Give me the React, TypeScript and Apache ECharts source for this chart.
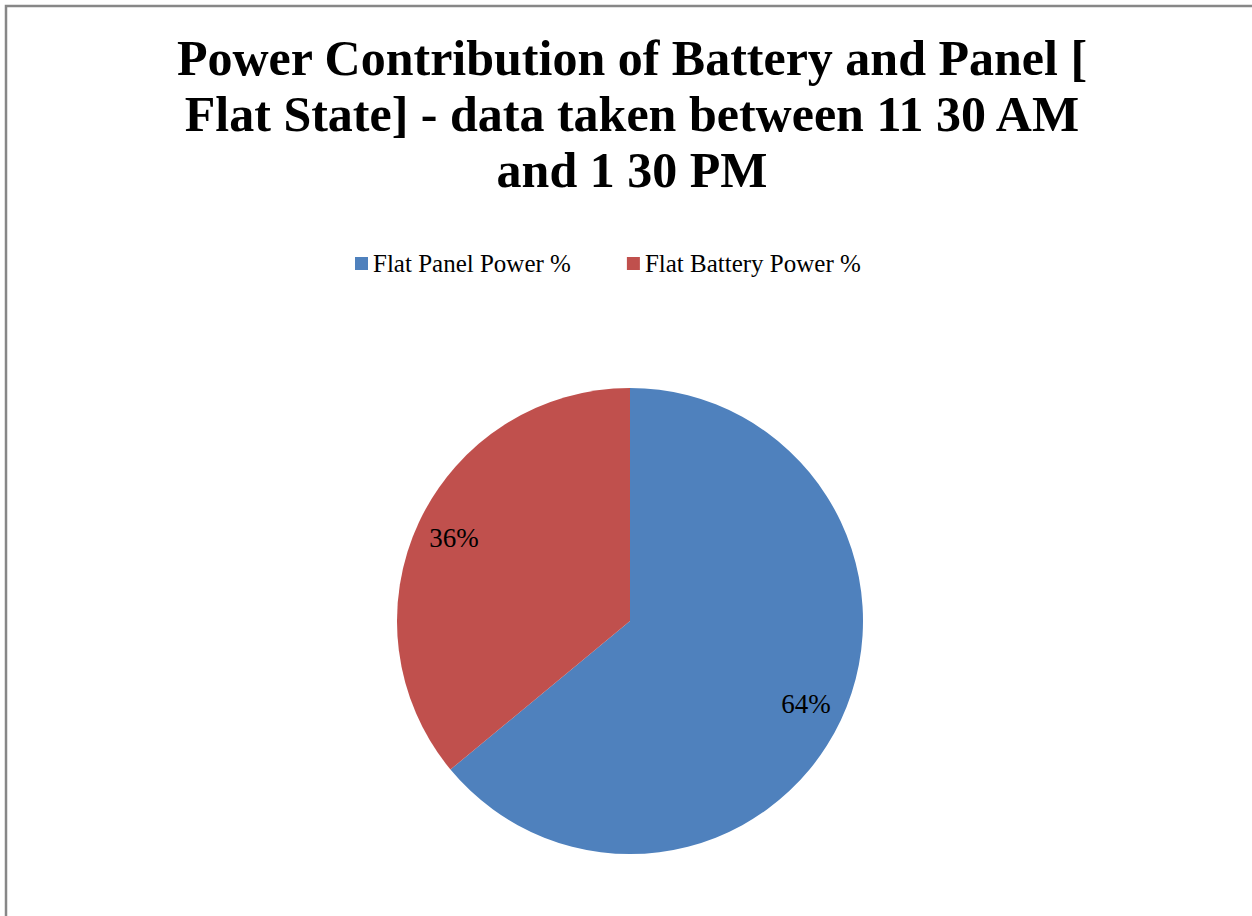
import React, { useEffect, useRef } from "react";
import * as echarts from "echarts";

const titleLines = [
  "Power Contribution of Battery and Panel [",
  "Flat State] - data taken between 11 30 AM",
  "and 1 30 PM",
];
const categories = ["Flat Panel Power %", "Flat Battery Power %"];
const values = [64, 36];
const colors = ["#4F81BD", "#C0504D"];

export default function App() {
  const ref = useRef<HTMLDivElement>(null);
  useEffect(() => {
    if (!ref.current) return;
    const chart = echarts.init(ref.current, undefined, { renderer: "svg" });
    const data = categories.map((name, i) => ({
      name,
      value: values[i],
      itemStyle: { color: colors[i] },
    }));
    chart.setOption({
      animation: false,
      backgroundColor: "#ffffff",
      title: {
        text: titleLines.join("\n"),
        left: 627,
        textAlign: "center",
        top: 25,
        textStyle: {
          fontFamily: "Liberation Serif",
          fontWeight: "bold",
          fontSize: 50,
          lineHeight: 56,
          color: "#000000",
        },
      },
      legend: {
        data: categories,
        top: 246,
        left: 350,
        icon: "rect",
        itemWidth: 13,
        itemHeight: 13,
        itemGap: 56,
        textStyle: {
          fontFamily: "Liberation Serif",
          fontSize: 25,
          color: "#000000",
        },
      },
      graphic: [
        {
          type: "rect",
          shape: { x: 6, y: 6, width: 1280, height: 960 },
          style: { fill: "none", stroke: "#878787", lineWidth: 2.5 },
          silent: true,
        },
      ],
      series: [
        {
          type: "pie",
          center: [630, 621],
          radius: [0, 233],
          startAngle: 90,
          clockwise: true,
          data,
          label: { show: false },
          labelLine: { show: false },
          emphasis: { disabled: true },
        },
        {
          type: "pie",
          center: [630, 621],
          radius: [150, 233],
          startAngle: 90,
          clockwise: true,
          silent: true,
          data: categories.map((name, i) => ({
            name: name + " label",
            value: values[i],
            itemStyle: { color: "rgba(0,0,0,0)" },
          })),
          label: {
            show: true,
            position: "inside",
            formatter: "{c}%",
            fontFamily: "Liberation Serif",
            fontSize: 27,
            color: "#000000",
          },
          labelLine: { show: false },
          emphasis: { disabled: true },
        },
      ],
    });
    return () => chart.dispose();
  }, []);
  return (
    <div
      ref={ref}
      style={{ position: "fixed", left: 0, top: 0, width: 1252, height: 916 }}
    />
  );
}
